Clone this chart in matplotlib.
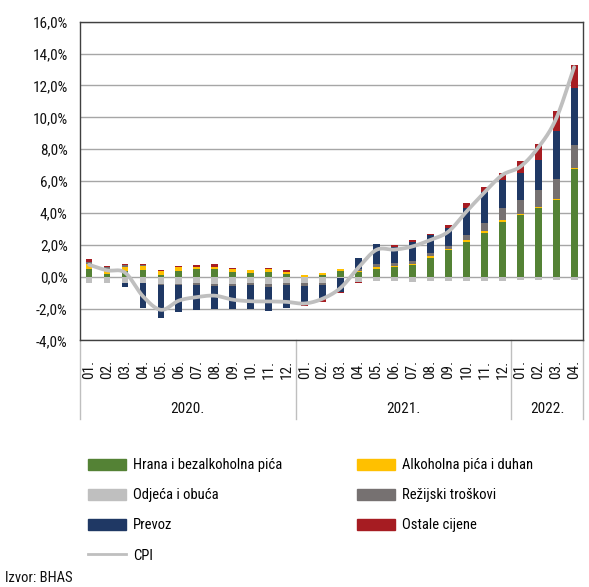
import numpy as np
import matplotlib.pyplot as plt
import matplotlib.transforms as mtransforms
from matplotlib.patches import Patch
from matplotlib.lines import Line2D
from matplotlib.ticker import FuncFormatter

plt.rcParams['font.family'] = ['Roboto Condensed', 'Roboto', 'DejaVu Sans']

# month labels and year groups
months = ['01.', '02.', '03.', '04.', '05.', '06.', '07.', '08.', '09.', '10.', '11.', '12.',
          '01.', '02.', '03.', '04.', '05.', '06.', '07.', '08.', '09.', '10.', '11.', '12.',
          '01.', '02.', '03.', '04.']
years = ['2020.', '2021.', '2022.']
year_len = [12, 12, 4]

# contributions, percentage points
hrana = [0.50, 0.20, 0.33, 0.40, 0.08, 0.33, 0.46, 0.46, 0.29, 0.21, 0.31, 0.19,
         0.00, 0.10, 0.33, 0.30, 0.50, 0.60, 0.71, 1.17, 1.65, 2.19, 2.74, 3.46,
         3.88, 4.33, 4.79, 6.73]
alkohol = [0.27, 0.19, 0.27, 0.27, 0.27, 0.25, 0.17, 0.17, 0.17, 0.21, 0.15, 0.10,
           0.12, 0.13, 0.15, 0.08, 0.08, 0.05, 0.10, 0.10, 0.10, 0.10, 0.10, 0.10,
           0.06, 0.06, 0.06, 0.06]
odjeca = [-0.37, -0.37, -0.42, -0.37, -0.44, -0.44, -0.37, -0.44, -0.44, -0.37, -0.48, -0.42,
          -0.42, -0.37, -0.10, -0.33, -0.29, -0.27, -0.33, -0.30, -0.30, -0.30, -0.30, -0.25,
          -0.22, -0.22, -0.20, -0.20]
rezijski = [0.17, 0.20, 0.12, 0.06, -0.10, -0.08, -0.15, -0.15, -0.15, -0.15, -0.17, -0.12,
            -0.17, -0.15, 0.00, 0.12, 0.20, 0.19, 0.19, 0.19, 0.17, 0.35, 0.53, 0.73,
            0.88, 1.04, 1.27, 1.46]
prevoz = [0.00, 0.00, -0.23, -1.60, -2.06, -1.69, -1.58, -1.46, -1.46, -1.48, -1.50, -1.44,
          -1.10, -0.90, -0.83, 0.67, 1.27, 1.02, 1.17, 1.13, 1.15, 1.67, 1.96, 1.77,
          1.67, 1.92, 3.02, 3.58]
ostale = [0.15, 0.10, 0.08, 0.05, 0.08, 0.10, 0.08, 0.15, 0.10, 0.00, 0.06, 0.10,
          -0.15, -0.15, -0.10, -0.06, 0.00, 0.10, 0.12, 0.12, 0.20, 0.31, 0.33, 0.42,
          0.77, 0.96, 1.25, 1.48]
cpi = [0.75, 0.40, 0.26, -1.23, -2.08, -1.50, -1.28, -1.19, -1.44, -1.54, -1.55, -1.58,
       -1.68, -1.38, -0.70, 0.58, 1.69, 1.70, 1.90, 2.31, 2.83, 4.08, 5.28, 6.38,
       6.90, 8.10, 9.92, 13.15]

series = [
    ('Hrana i bezalkoholna pića', hrana, '#548235'),
    ('Alkoholna pića i duhan', alkohol, '#FFC000'),
    ('Odjeća i obuća', odjeca, '#BFBFBF'),
    ('Režijski troškovi', rezijski, '#767171'),
    ('Prevoz', prevoz, '#1F3864'),
    ('Ostale cijene', ostale, '#A61C22'),
]


def smooth(xs, ys, n=20):
    # catmull-rom curve through the points, like excel's smoothed line
    xs = np.asarray(xs, float)
    ys = np.asarray(ys, float)
    px = np.concatenate([[2 * xs[0] - xs[1]], xs, [2 * xs[-1] - xs[-2]]])
    py = np.concatenate([[2 * ys[0] - ys[1]], ys, [2 * ys[-1] - ys[-2]]])
    t = np.linspace(0, 1, n, endpoint=False)
    outx, outy = [], []
    for i in range(1, len(px) - 2):
        for p, out in ((px, outx), (py, outy)):
            p0, p1, p2, p3 = p[i - 1], p[i], p[i + 1], p[i + 2]
            out.extend(0.5 * (2 * p1 + (-p0 + p2) * t + (2 * p0 - 5 * p1 + 4 * p2 - p3) * t ** 2
                              + (-p0 + 3 * p1 - 3 * p2 + p3) * t ** 3))
    outx.append(xs[-1])
    outy.append(ys[-1])
    return outx, outy


fig = plt.figure(figsize=(5.89, 5.87), dpi=100)
ax = fig.add_axes([0.136, 0.42, 0.854, 0.543])

x = np.arange(len(months))
pos_base = np.zeros(len(x))
neg_base = np.zeros(len(x))
for name, vals, col in series:
    v = np.array(vals)
    pos = np.where(v > 0, v, 0)
    neg = np.where(v < 0, v, 0)
    ax.bar(x, pos, 0.38, bottom=pos_base, color=col, zorder=3)
    ax.bar(x, neg, 0.38, bottom=neg_base, color=col, zorder=3)
    pos_base += pos
    neg_base += neg

sx, sy = smooth(x, cpi)
ax.plot(sx, sy, color='#BFBFBF', lw=2.7, zorder=4, solid_capstyle='round')

ax.set_xlim(-0.5, 27.5)
ax.set_ylim(-4, 16)
ax.set_yticks(np.arange(-4, 17, 2))
ax.yaxis.set_major_formatter(FuncFormatter(lambda v, p: f'{v:.1f}%'.replace('.', ',')))
ax.grid(axis='y', color='#A6A6A6', lw=1, zorder=0)
ax.set_xticks(x)
ax.set_xticklabels(months, rotation=90, va='top')
ax.tick_params(axis='both', length=0, labelsize=11, colors='#111111')
ax.tick_params(axis='y', pad=9)
ax.tick_params(axis='x', pad=14)
for s in ax.spines.values():
    s.set_color('#404040')
    s.set_linewidth(1)

# year groups under the month labels
trans = mtransforms.blended_transform_factory(ax.transData, ax.transAxes)
edges = np.concatenate([[0], np.cumsum(year_len)]) - 0.5
for e in edges:
    ax.plot([e, e], [0, -0.245], color='#BFBFBF', lw=1, transform=trans, clip_on=False)
for i, yr in enumerate(years):
    ax.text((edges[i] + edges[i + 1]) / 2, -0.214, yr, transform=trans,
            ha='center', va='center', fontsize=11, color='#111111')

h = {name: Patch(color=col) for name, vals, col in series}
left = [h['Hrana i bezalkoholna pića'], h['Odjeća i obuća'], h['Prevoz'],
        Line2D([], [], color='#BFBFBF', lw=2)]
left_lab = ['Hrana i bezalkoholna pića', 'Odjeća i obuća', 'Prevoz', 'CPI']
right = [h['Alkoholna pića i duhan'], h['Režijski troškovi'], h['Ostale cijene']]
right_lab = ['Alkoholna pića i duhan', 'Režijski troškovi', 'Ostale cijene']
kw = dict(loc='upper left', frameon=False, fontsize=10.5, handlelength=2.6,
          handleheight=0.85, labelspacing=1.1, handletextpad=0.45, borderaxespad=0)
fig.legend(left, left_lab, bbox_to_anchor=(0.140, 0.229), **kw)
fig.legend(right, right_lab, bbox_to_anchor=(0.597, 0.229), **kw)

fig.text(0.008, 0.009, 'Izvor: BHAS', fontsize=10.5, color='#111111')

fig.savefig('out.png', dpi=100)
